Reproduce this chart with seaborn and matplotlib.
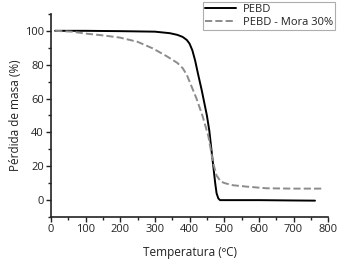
import matplotlib
matplotlib.use("Agg")
import matplotlib.pyplot as plt
import seaborn as sns
import pandas as pd
from matplotlib.ticker import MultipleLocator

sns.set_style("ticks")
plt.rcParams['font.family'] = ['Open Sans', 'DejaVu Sans']

temp_pebd = [12, 100, 200, 300, 343, 365, 380, 392, 400, 408, 416, 425, 435, 443, 450, 457, 463, 468, 474, 478, 483, 488, 500, 600, 700, 762]
mass_pebd = [100, 100, 99.8, 99.5, 98.6, 97.6, 96.4, 94.6, 92.4, 88.5, 82.5, 74, 65, 57, 50, 41, 30, 21, 10, 4, 1, 0, 0, 0, -0.2, -0.3]

temp_mora = [12, 60, 103, 150, 199, 250, 295, 334, 365, 380, 392, 405, 420, 437, 454, 468, 478, 490, 502, 525, 564, 622, 700, 786]
mass_mora = [100, 99.5, 98.3, 97.3, 96, 93.5, 89.5, 85, 81, 78, 74, 67.5, 60, 50, 38, 22, 14.5, 11, 10, 8.8, 8, 7, 6.8, 6.8]

df1 = pd.DataFrame({"T": temp_pebd, "m": mass_pebd})
df2 = pd.DataFrame({"T": temp_mora, "m": mass_mora})

fig = plt.figure(figsize=(3.54, 2.67), dpi=100)
ax = fig.add_axes([0.144, 0.187, 0.783, 0.761])

sns.lineplot(data=df1, x="T", y="m", ax=ax, color="black", lw=1.4, label="PEBD")
sns.lineplot(data=df2, x="T", y="m", ax=ax, color="#8c8c8c", lw=1.4, dashes=(4, 3), linestyle="--", label="PEBD - Mora 30%")

ax.set_xlim(0, 800)
ax.set_ylim(-10, 110)
ax.set_xticks(range(0, 801, 100))
ax.set_yticks(range(0, 101, 20))
ax.xaxis.set_minor_locator(MultipleLocator(50))
ax.yaxis.set_minor_locator(MultipleLocator(10))
ax.tick_params(axis='both', which='major', direction='out', length=3.5, width=1, labelsize=8, colors='#222222', pad=1.5)
ax.tick_params(axis='both', which='minor', direction='out', length=2, width=1, colors='#222222')
for s in ['left', 'bottom']:
    ax.spines[s].set_linewidth(1.2)
    ax.spines[s].set_color('#222222')
sns.despine(ax=ax)

ax.set_xlabel("Temperatura (ºC)", fontsize=8.5, color='#222222', labelpad=8)
ax.set_ylabel("Pérdida de masa (%)", fontsize=8.5, color='#222222', labelpad=2)

leg = ax.legend(loc='upper right', bbox_to_anchor=(0.947, 0.992), bbox_transform=fig.transFigure,
                fontsize=8, frameon=True, fancybox=False, borderpad=0.2, labelspacing=0.15,
                handlelength=2.8, handletextpad=0.6, borderaxespad=0)
leg.get_frame().set_edgecolor('#999999')
leg.get_frame().set_linewidth(0.8)
for t in leg.get_texts():
    t.set_color('#222222')

fig.savefig("out.png", dpi=100)
